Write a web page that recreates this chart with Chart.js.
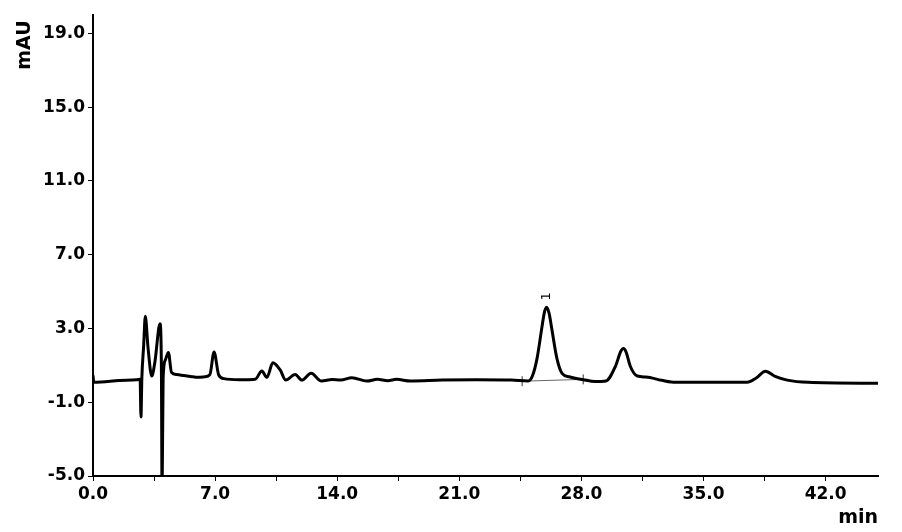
<!DOCTYPE html>
<html>
<head>
<meta charset="utf-8">
<script src="https://cdn.jsdelivr.net/npm/chart.js@4/dist/chart.umd.min.js"></script>
<style>
  html, body { margin: 0; padding: 0; background: #fff; }
</style>
</head>
<body>
<canvas id="chrom" width="902" height="532"></canvas>
<script>
// retention time (min) and detector signal (mAU)
const times  = [0.0, 0.05, 0.5, 1.5, 2.5, 2.7, 2.75, 2.8, 2.9, 3.0, 3.15, 3.37, 3.55, 3.84, 3.92, 3.96, 4.02, 4.15, 4.32, 4.5, 4.8, 5.2, 5.6, 6.0, 6.4, 6.7, 6.94, 7.2, 7.5, 8.4, 9.3, 9.68, 9.97, 10.31, 10.73, 11.05, 11.59, 11.97, 12.5, 13.1, 13.7, 14.2, 14.84, 15.7, 16.3, 16.9, 17.4, 18.2, 20.0, 22.0, 24.0, 24.95, 25.2, 25.45, 25.74, 25.87, 26.0, 26.14, 26.28, 26.6, 26.9, 27.3, 28.1, 28.8, 29.4, 29.95, 30.25, 30.4, 30.55, 30.8, 31.2, 31.7, 32.6, 33.4, 37.5, 38.0, 38.55, 39.1, 39.8, 41.0, 45.0];
const signal = [0.45, 0.08, 0.1, 0.18, 0.22, 0.25, -1.8, 0.3, 2.0, 3.66, 2.0, 0.42, 1.2, 3.25, 1.0, -6.0, 0.3, 1.3, 1.7, 0.62, 0.5, 0.45, 0.4, 0.35, 0.38, 0.5, 1.72, 0.5, 0.28, 0.22, 0.25, 0.69, 0.35, 1.14, 0.75, 0.2, 0.51, 0.2, 0.57, 0.15, 0.23, 0.2, 0.33, 0.15, 0.24, 0.17, 0.24, 0.15, 0.2, 0.22, 0.2, 0.15, 0.45, 1.35, 3.1, 3.85, 4.15, 3.85, 3.1, 1.35, 0.55, 0.38, 0.22, 0.12, 0.15, 0.95, 1.75, 1.92, 1.75, 0.95, 0.42, 0.37, 0.19, 0.08, 0.08, 0.3, 0.68, 0.4, 0.2, 0.08, 0.03];

// integration baseline under peak 1
const baseTimes  = [24.6, 28.1];
const baseValues = [0.14, 0.24];

// peak label
const peakTimes  = [26.0];
const peakValues = [4.15];
const peakNames  = ['1'];

const xTicks = [0, 3.5, 7, 10.5, 14, 17.5, 21, 24.5, 28, 31.5, 35, 38.5, 42];
const yTicks = [-5, -1, 3, 7, 11, 15, 19];

const tickFont = { family: 'DejaVu Sans', size: 17, weight: 'bold' };

const extras = {
  id: 'extras',
  afterDraw(chart) {
    const { ctx, scales: { x, y } } = chart;
    ctx.save();
    ctx.fillStyle = '#000';
    ctx.font = 'bold 19px "DejaVu Sans"';
    // axis titles
    ctx.textAlign = 'right';
    ctx.textBaseline = 'alphabetic';
    ctx.fillText('min', x.right, 523);
    ctx.translate(30, 45);
    ctx.rotate(-Math.PI / 2);
    ctx.textAlign = 'center';
    ctx.fillText('mAU', 0, 0);
    ctx.restore();

    // peak names
    ctx.save();
    ctx.font = '13px "DejaVu Sans"';
    ctx.fillStyle = '#000';
    peakNames.forEach((n, i) => {
      ctx.save();
      ctx.translate(x.getPixelForValue(peakTimes[i]), y.getPixelForValue(peakValues[i]) - 11);
      ctx.rotate(-Math.PI / 2);
      ctx.textAlign = 'center';
      ctx.textBaseline = 'middle';
      ctx.fillText(n, 0, 0);
      ctx.restore();
    });
    ctx.restore();
  }
};

new Chart(document.getElementById('chrom'), {
  type: 'line',
  data: {
    datasets: [
      {
        data: times.map((t, i) => ({ x: t, y: signal[i] })),
        borderColor: '#000',
        borderWidth: 3,
        pointRadius: 0,
        cubicInterpolationMode: 'monotone',
        order: 1
      },
      {
        data: baseTimes.map((t, i) => ({ x: t, y: baseValues[i] })),
        borderColor: '#666',
        borderWidth: 1,
        pointStyle: 'cross',
        pointRadius: 5,
        pointBorderColor: '#333',
        pointBorderWidth: 1,
        order: 2
      }
    ]
  },
  options: {
    responsive: false,
    animation: false,
    devicePixelRatio: 1,
    layout: { padding: { top: 15, right: 24, left: 0, bottom: 0 } },
    plugins: { legend: { display: false }, tooltip: { enabled: false } },
    scales: {
      x: {
        type: 'linear',
        min: 0,
        max: 45,
        afterBuildTicks: s => { s.ticks = xTicks.map(v => ({ value: v })); },
        afterFit: s => { s.height = 56; },
        ticks: {
          autoSkip: false,
          maxRotation: 0,
          color: '#000',
          font: tickFont,
          padding: 3,
          callback: v => (v % 7 === 0 ? v.toFixed(1) : '')
        },
        grid: { drawOnChartArea: false, drawTicks: true, tickLength: 5, color: '#000', lineWidth: 1 },
        border: { color: '#000', width: 2 }
      },
      y: {
        min: -5,
        max: 20,
        afterBuildTicks: s => { s.ticks = yTicks.map(v => ({ value: v })); },
        afterFit: s => { s.width = 93; },
        ticks: {
          color: '#000',
          font: tickFont,
          padding: 3,
          callback: v => v.toFixed(1)
        },
        grid: { drawOnChartArea: false, drawTicks: true, tickLength: 5, color: '#000', lineWidth: 1 },
        border: { color: '#000', width: 2 }
      }
    }
  },
  plugins: [extras]
});
</script>
</body>
</html>
